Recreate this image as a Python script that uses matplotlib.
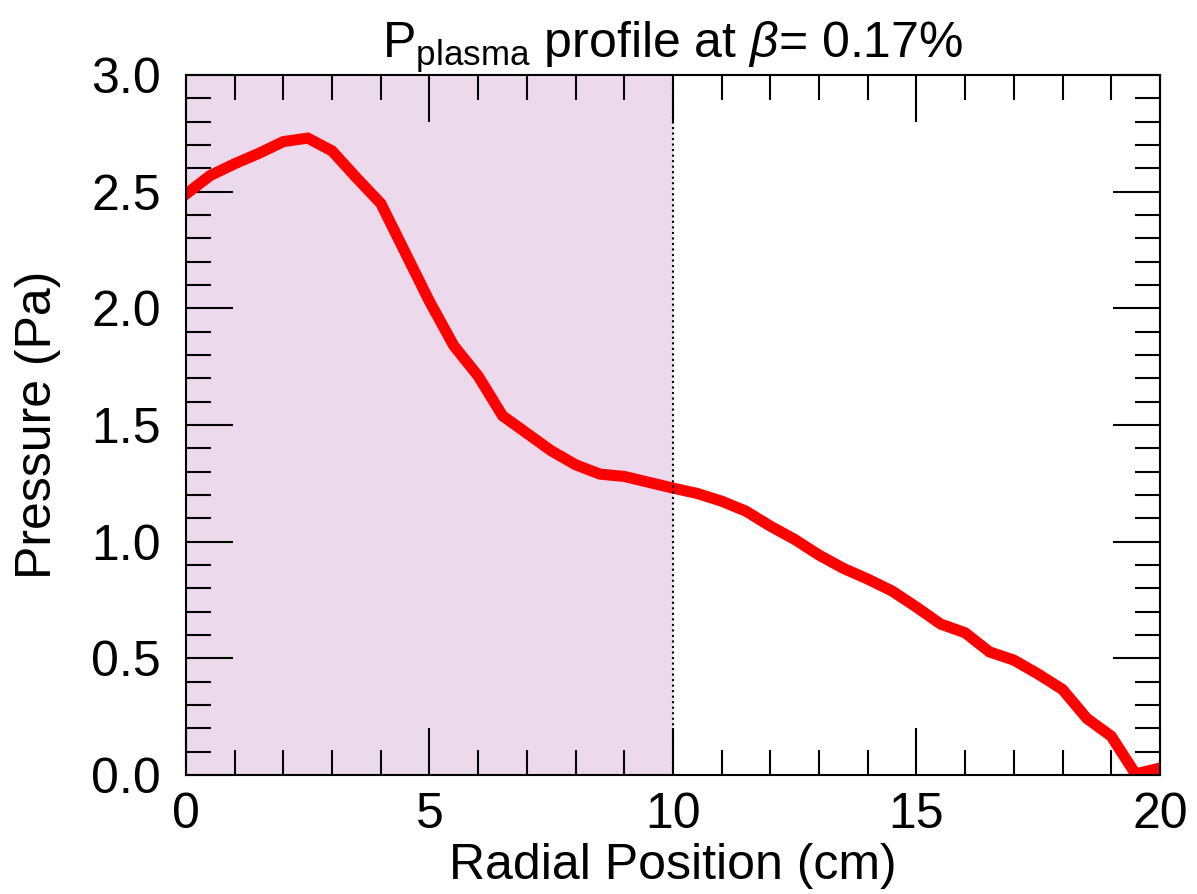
import matplotlib
matplotlib.use("Agg")
import matplotlib.pyplot as plt
from matplotlib.ticker import MultipleLocator

plt.rcParams['font.family'] = ['Liberation Sans', 'DejaVu Sans']
plt.rcParams['mathtext.fontset'] = 'custom'
plt.rcParams['mathtext.rm'] = 'Liberation Sans'
plt.rcParams['mathtext.it'] = 'Liberation Sans:italic'

# radial position (cm) and plasma pressure (Pa)
radius = [0.0, 0.5, 1.0, 1.5, 2.0, 2.5, 3.0, 3.5, 4.0, 4.5, 5.0, 5.5, 6.0, 6.5,
          7.0, 7.5, 8.0, 8.5, 9.0, 9.5, 10.0, 10.5, 11.0, 11.5, 12.0, 12.5,
          13.0, 13.5, 14.0, 14.5, 15.0, 15.5, 16.0, 16.5, 17.0, 17.5, 18.0,
          18.5, 19.0, 19.5, 20.0]
pressure = [2.49, 2.57, 2.62, 2.665, 2.715, 2.73, 2.675, 2.56, 2.45, 2.24,
            2.03, 1.84, 1.71, 1.54, 1.465, 1.39, 1.33, 1.29, 1.28, 1.255,
            1.23, 1.207, 1.174, 1.131, 1.067, 1.01, 0.943, 0.886, 0.84,
            0.789, 0.72, 0.647, 0.61, 0.528, 0.493, 0.433, 0.367, 0.243,
            0.167, 0.005, 0.03]
shade_edge = 10.0

fig = plt.figure(figsize=(11.97, 8.94), dpi=100)
ax = fig.add_axes([0.1554, 0.133, 0.8136, 0.783])

ax.plot(radius, pressure, color='#ff0000', lw=8, solid_joinstyle='miter', clip_on=True)
ax.axvspan(0, shade_edge, color='purple', alpha=0.15, lw=0)
ax.axvline(shade_edge, color='black', ls=':', lw=1.5)

ax.set_xlim(0, 20)
ax.set_ylim(0, 3.0)
ax.xaxis.set_major_locator(MultipleLocator(5))
ax.xaxis.set_minor_locator(MultipleLocator(1))
ax.yaxis.set_major_locator(MultipleLocator(0.5))
ax.yaxis.set_minor_locator(MultipleLocator(0.1))
ax.tick_params(which='both', direction='in', top=True, right=True, width=1.5,
               labelsize=36)
ax.tick_params(axis='x', which='both', pad=12)
ax.tick_params(axis='y', which='both', pad=18)
ax.tick_params(which='major', length=34)
ax.tick_params(which='minor', length=18)
for s in ax.spines.values():
    s.set_linewidth(1.5)

ax.set_xlabel('Radial Position (cm)', fontsize=36, labelpad=4)
ax.set_ylabel('Pressure (Pa)', fontsize=36, labelpad=22)
ax.set_title(r'P$_{\rm plasma}$ profile at $\beta$= 0.17%', fontsize=36, pad=10)

plt.savefig('out.png', dpi=100)
